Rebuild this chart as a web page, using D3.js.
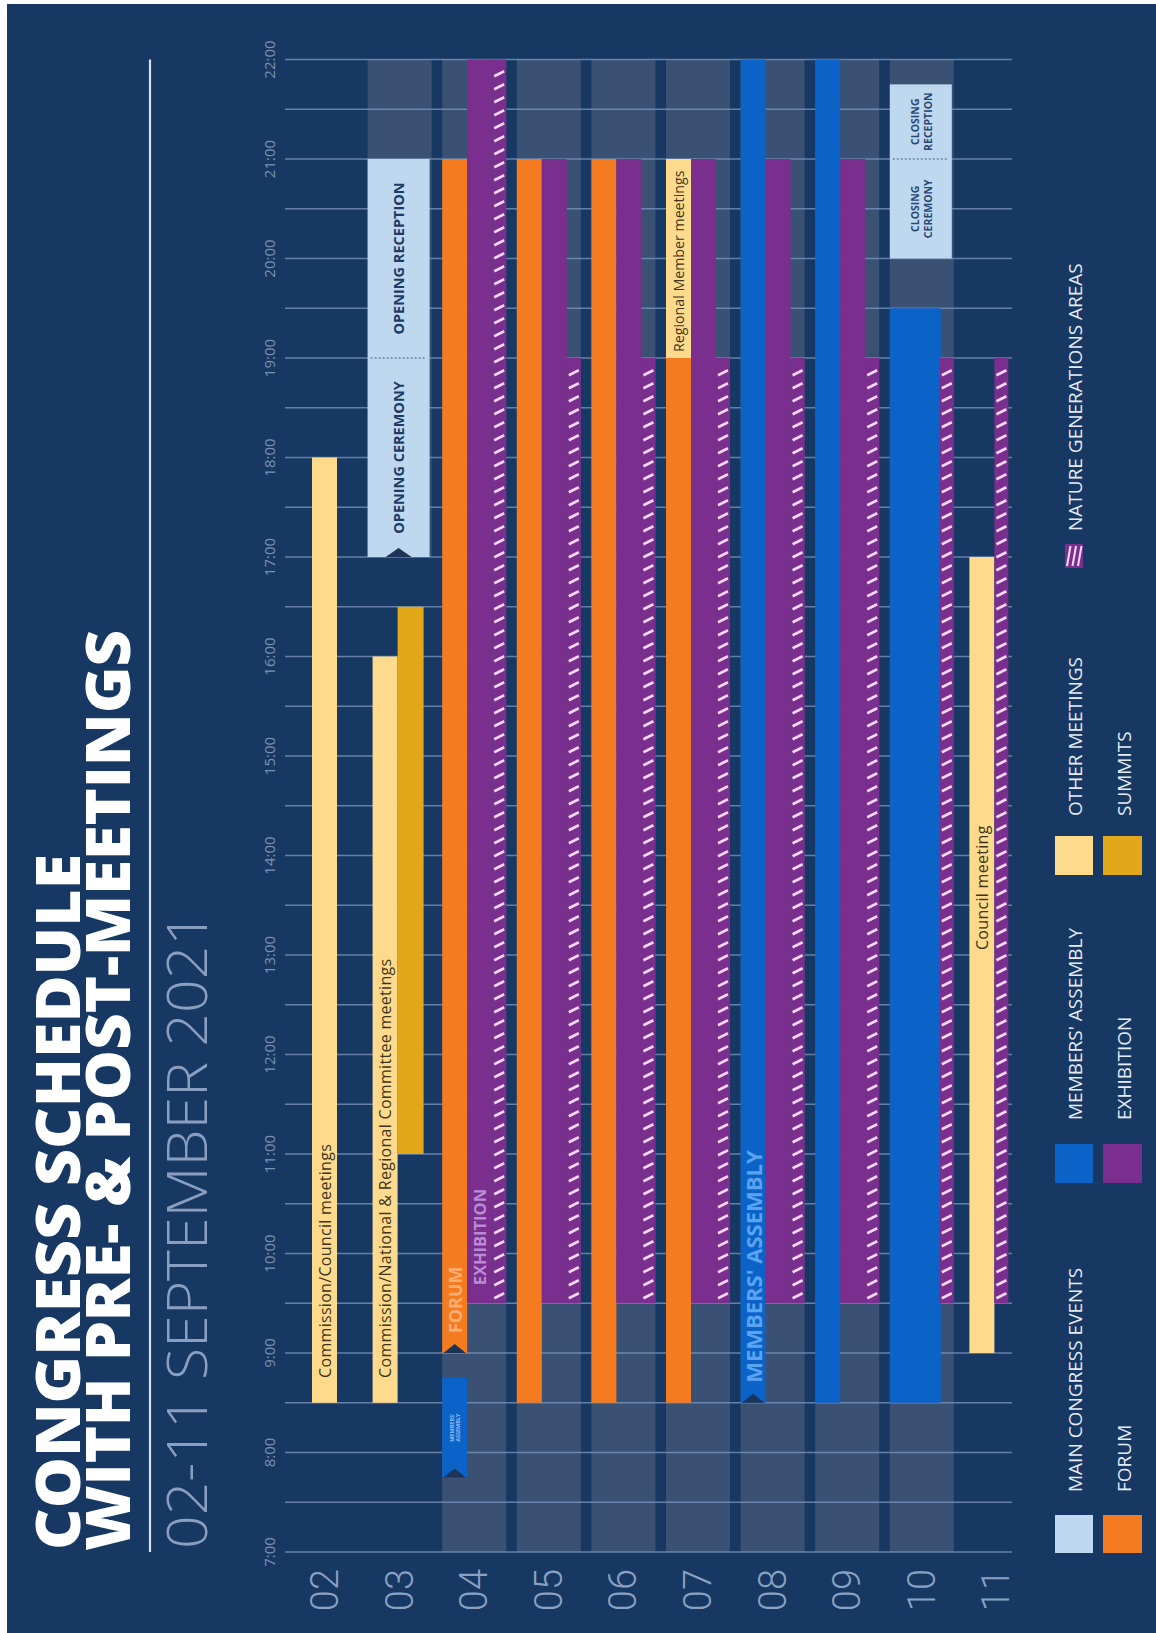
<!DOCTYPE html>
<html><head><meta charset="utf-8">
<script src="https://cdn.jsdelivr.net/npm/d3@7"></script>
<style>body{margin:0;background:#fff}svg{display:block}</style>
</head><body>
<svg id="c" width="1156" height="1633"></svg>
<script>
// ---------- DATA ----------
const days = ["02","03","04","05","06","07","08","09","10","11"];
const hourTicks = [7,8,9,10,11,12,13,14,15,16,17,18,19,20,21,22];
const tickLabels = ["7:00","8:00","9:00","10:00","11:00","12:00","13:00","14:00","15:00","16:00","17:00","18:00","19:00","20:00","21:00","22:00"];

const bandDays   = ["03","04","05","06","07","08","09","10"];
const bandStarts = [17,7,7,7,7,7,7,7];
const bandEnds   = [22,22,22,22,22,22,22,22];

const eventDays   = ["02","03","03","03","03","04","04","04","04","05","05","05","06","06","06","07","07","07","07","08","08","08","09","09","09","10","10","10","10","11","11"];
const eventTypes  = ["other","other","summit","main","main","assembly","forum","exhibition","nature","forum","exhibition","nature","forum","exhibition","nature","forum","other","exhibition","nature","assembly","exhibition","nature","assembly","exhibition","nature","assembly","nature","main","main","other","nature"];
const eventStarts = [8.5,8.5,11,17,19,7.75,9,9.5,9.5,8.5,9.5,9.5,8.5,9.5,9.5,8.5,19,9.5,9.5,8.5,9.5,9.5,8.5,9.5,9.5,8.5,9.5,20,21,9,9.5];
const eventEnds   = [18,16,16.5,19,21,8.75,21,22,22,21,21,19,21,21,19,19,21,21,19,22,21,19,22,21,19,19.5,19,21,21.75,17,19];
const eventLanes  = ["m","p","q","all","all","a","a","b","c","a","b","c","a","b","c","a","a","b","c","a","b","c","a","b","c","ab","c","all","all","p","r"];
const eventLabels = ["Commission/Council meetings","Commission/National & Regional Committee meetings","","OPENING CEREMONY","OPENING RECEPTION","MEMBERS'|ASSEMBLY","FORUM","EXHIBITION","","","","","","","","","Regional Member meetings","","","MEMBERS' ASSEMBLY","","","","","","","","CLOSING|CEREMONY","CLOSING|RECEPTION","Council meeting",""];
const eventLabelAt = [8.75,8.75,null,null,null,null,9.2,9.68,null,null,null,null,null,null,null,null,19.06,null,null,8.7,null,null,null,null,null,null,null,null,null,13.05,null];
const eventArrow  = [0,0,0,1,0,1,1,0,0,0,0,0,0,0,0,0,0,0,0,1,0,0,0,0,0,0,0,0,0,0,0];

const legendLabels = ["MAIN CONGRESS EVENTS","FORUM","MEMBERS' ASSEMBLY","EXHIBITION","OTHER MEETINGS","SUMMITS","NATURE GENERATIONS AREAS"];
const legendTypes  = ["main","forum","assembly","exhibition","other","summit","nature"];

const titleLines = ["CONGRESS SCHEDULE","WITH PRE- & POST-MEETINGS"];
const subtitle = "02-11 SEPTEMBER 2021";

// ---------- STYLE ----------
const colors = {main:"#bed8ef", forum:"#f47b20", assembly:"#0b63c8", exhibition:"#7a2e8e", other:"#fedb8c", summit:"#e3a81a", nature:"#7a2e8e"};
const labelStyle = {
  other:{fill:"#3e3520",size:16,weight:500,ls:0.3},
  main:{fill:"#1e3b66",size:14.5,weight:700,ls:0},
  forum:{fill:"#ffae72",size:18,weight:700,ls:0},
  exhibition:{fill:"#b98bd2",size:16.5,weight:700,ls:0},
  assembly:{fill:"#5aa3f2",size:22,weight:700,ls:0}
};
const lanes = {a:[0,25],b:[25,50],c:[50,64],ab:[0,51],all:[0,62],m:[19,44],p:[5,30],q:[30,56],r:[30,44]};
const NAVY = "#163862", BAND = "#3b5173", GRID = "#7893bb";

// ---------- DRAW ----------
const svg = d3.select("#c");
svg.append("rect").attr("x",7).attr("y",4).attr("width",1149).attr("height",1629).attr("fill",NAVY);

// original (unrotated) frame: u = time axis, v = day axis
const g = svg.append("g").attr("transform","translate(0,1633) rotate(-90)");
const x = d3.scaleLinear().domain([7,22]).range([81,1573.5]);
const y = d3.scaleBand().domain(days).range([293, 293+74.6*10-10.6]).paddingInner(0.142);
const font = "'Open Sans', 'Noto Sans', sans-serif";

// title
const tl = g.append("g").attr("font-family",font);
tl.append("text").attr("x",83).attr("y",80).attr("fill","#ffffff").attr("font-size",62).attr("font-weight",800)
  .attr("textLength",696).attr("lengthAdjust","spacingAndGlyphs").text(titleLines[0]);
tl.append("text").attr("x",82).attr("y",130).attr("fill","#ffffff").attr("font-size",62).attr("font-weight",800)
  .attr("textLength",921).attr("lengthAdjust","spacingAndGlyphs").text(titleLines[1]);
tl.append("text").attr("x",84).attr("y",207).attr("fill","#8a9fc0").attr("font-size",56).attr("font-weight",300)
  .attr("textLength",637).attr("lengthAdjust","spacingAndGlyphs").text(subtitle);
g.append("line").attr("x1",x(7)).attr("x2",x(22)).attr("y1",150).attr("y2",150)
  .attr("stroke","#d5dfed").attr("stroke-width",2.2);

// bands
g.append("g").selectAll("rect").data(bandDays).join("rect")
  .attr("x",(d,i)=>x(bandStarts[i])).attr("width",(d,i)=>x(bandEnds[i])-x(bandStarts[i]))
  .attr("y",d=>y(d)).attr("height",y.bandwidth()).attr("fill",BAND);

// gridlines every half hour
const gridTimes = d3.range(7,22.01,0.5);
g.append("g").selectAll("line").data(gridTimes).join("line")
  .attr("x1",d=>x(d)).attr("x2",d=>x(d)).attr("y1",285).attr("y2",1012)
  .attr("stroke",GRID).attr("stroke-width",1.6).attr("opacity",0.8);

// tick labels
g.append("g").selectAll("text").data(hourTicks).join("text")
  .attr("x",d=>x(d)).attr("y",269).attr("text-anchor","middle").attr("dominant-baseline","central")
  .attr("font-family",font).attr("font-size",15).attr("fill","#7b91b3").text((d,i)=>tickLabels[i]);

// day labels
g.append("g").selectAll("text").data(days).join("text")
  .attr("x",64).attr("y",d=>y(d)+y.bandwidth()/2).attr("text-anchor","end").attr("dominant-baseline","central")
  .attr("font-family","Roboto, sans-serif").attr("font-weight",300).attr("font-size",38).attr("fill","#8ba1c2").text(d=>d);

// events
const ev = eventDays.map((d,i)=>({day:d,type:eventTypes[i],s:eventStarts[i],e:eventEnds[i],lane:eventLanes[i],label:eventLabels[i],at:eventLabelAt[i],arrow:eventArrow[i],i}));
const eg = g.append("g");
function vRange(d){const l=lanes[d.lane];return [y(d.day)+l[0], y(d.day)+l[1]];}

ev.forEach(d=>{
  const [v0,v1] = vRange(d);
  const u0 = x(d.s), u1 = x(d.e);
  eg.append("rect").attr("x",u0).attr("y",v0).attr("width",u1-u0).attr("height",v1-v0).attr("fill",colors[d.type]);
  if(d.type==="nature"){
    const step = 13;
    for(let u=u0+5; u+5<=u1-1; u+=step){
      eg.append("line").attr("x1",u).attr("y1",v0+2).attr("x2",u+5).attr("y2",v1-2)
        .attr("stroke","#f4d8f4").attr("stroke-width",2.6);
    }
  }
  if(d.arrow){
    const vc=(v0+v1)/2, w=Math.min(26,(v1-v0)*0.9);
    eg.append("path").attr("d",`M${u0},${vc-w/2} L${u0+9},${vc} L${u0},${vc+w/2} Z`).attr("fill","#1d3458");
  }
});

// dotted separators between consecutive main events of the same day
ev.forEach((d,k)=>{
  if(d.type==="main" && k>0 && ev[k-1].type==="main" && ev[k-1].day===d.day){
    const [v0,v1]=vRange(d);
    eg.append("line").attr("x1",x(d.s)).attr("x2",x(d.s)).attr("y1",v0+3).attr("y2",v1-3)
      .attr("stroke","#6f84a3").attr("stroke-width",1.3).attr("stroke-dasharray","2,2");
  }
});

// labels
ev.filter(d=>d.label).forEach(d=>{
  const [v0,v1]=vRange(d); const vc=(v0+v1)/2;
  const lines=d.label.split("|");
  if(d.type==="assembly" && lines.length>1){
    const t=eg.append("text").attr("x",(x(d.s)+x(d.e))/2).attr("y",vc).attr("text-anchor","middle")
      .attr("font-family",font).attr("font-weight",700).attr("font-size",5.5).attr("fill","#8cc0f5");
    lines.forEach((ln,j)=>t.append("tspan").attr("x",(x(d.s)+x(d.e))/2).attr("dy",j===0?"-0.2em":"1.1em").text(ln));
    return;
  }
  const st = labelStyle[d.type];
  if(d.type==="main"){
    const um=(x(d.s)+x(d.e))/2;
    if(lines.length===1){
      eg.append("text").attr("x",um).attr("y",vc).attr("text-anchor","middle").attr("dominant-baseline","central")
        .attr("font-family",font).attr("font-weight",700).attr("font-size",14.5).attr("fill",st.fill).text(lines[0]);
    } else {
      const t=eg.append("text").attr("x",um).attr("y",vc).attr("text-anchor","middle")
        .attr("font-family",font).attr("font-weight",700).attr("font-size",10.5).attr("fill","#2a4873");
      lines.forEach((ln,j)=>t.append("tspan").attr("x",um).attr("dy",j===0?"-0.15em":"1.2em").text(ln));
    }
    return;
  }
  const t = eg.append("text").attr("x",x(d.at)).attr("y",vc).attr("dominant-baseline","central")
    .attr("font-family",font).attr("font-weight",st.weight).attr("font-size",st.size)
    .attr("letter-spacing",st.ls).attr("fill",st.fill).text(d.label);
  // shrink to fit inside the bar
  const avail = x(d.e) - x(d.at) - 5;
  const len = t.node().getComputedTextLength();
  if(len > avail){
    t.attr("letter-spacing",0).attr("font-size", st.size*avail/len);
  }
});

// legend
const legCols = [[80,118,141],[450,489,513],[758,797,817],[1065,1089,1102]];
const legRows = [[1055,1093],[1103,1142]];
const lg = g.append("g").attr("font-family",font);
legendLabels.forEach((lab,i)=>{
  const col = Math.floor(i/2), row = i%2;
  const c = legCols[col], r = legRows[row];
  const type = legendTypes[i];
  if(type==="nature"){
    const v0=1065, v1=1083;
    lg.append("rect").attr("x",c[0]).attr("y",v0).attr("width",c[1]-c[0]).attr("height",v1-v0).attr("fill",colors.nature);
    [0,1,2].forEach(k=>{
      const vv = v0+2+k*5.5;
      lg.append("line").attr("x1",c[0]+2).attr("y1",vv).attr("x2",c[1]-2).attr("y2",vv+3.5)
        .attr("stroke","#f4d8f4").attr("stroke-width",2);
    });
    lg.append("text").attr("x",c[2]).attr("y",1082).attr("fill","#e4ebf5").attr("font-size",19).attr("font-weight",500).text(lab);
  } else {
    lg.append("rect").attr("x",c[0]).attr("y",r[0]).attr("width",c[1]-c[0]).attr("height",r[1]-r[0]).attr("fill",colors[type]);
    lg.append("text").attr("x",c[2]).attr("y",r[1]-11).attr("fill","#e4ebf5").attr("font-size",19).attr("font-weight",500).text(lab);
  }
});
</script>
</body></html>
